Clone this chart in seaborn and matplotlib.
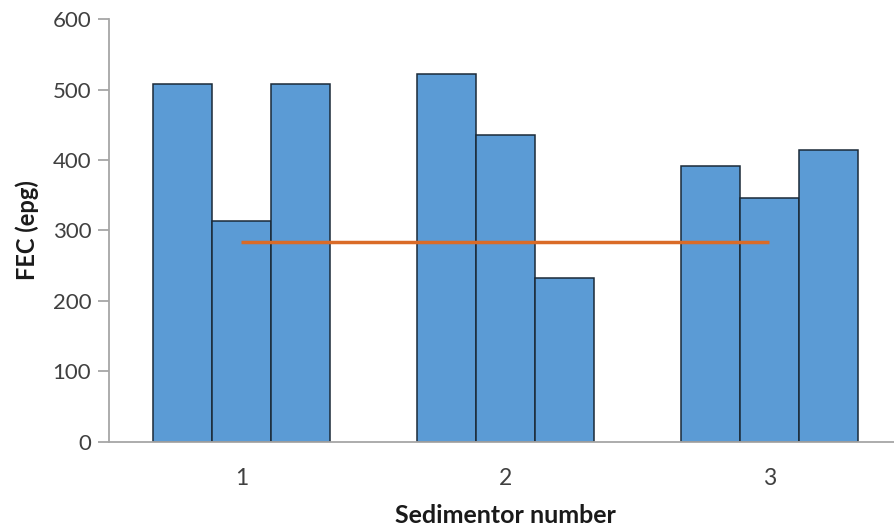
import matplotlib
matplotlib.use("Agg")
import matplotlib.pyplot as plt
import seaborn as sns
import pandas as pd

# Faecal egg counts per sedimentor, three replicate readings each
sedimentors = ["1", "2", "3"]
replicate_a = [508, 522, 392]
replicate_b = [313, 435, 346]
replicate_c = [508, 233, 415]
reference_level = [284, 284, 284]
y_ticks = [0, 100, 200, 300, 400, 500, 600]

rows = []
for rep_name, values in (("a", replicate_a), ("b", replicate_b), ("c", replicate_c)):
    for sed, val in zip(sedimentors, values):
        rows.append({"Sedimentor": sed, "Replicate": rep_name, "FEC": val})
df = pd.DataFrame(rows)

sns.set_theme(style="white")
plt.rcParams["font.family"] = ["Lato", "DejaVu Sans"]

fig = plt.figure(figsize=(8.94, 5.29), dpi=100)
ax = fig.add_axes([0.1223, 0.1654, 0.886, 0.798])

bar_blue = "#5B9BD5"
sns.barplot(
    data=df, x="Sedimentor", y="FEC", hue="Replicate",
    order=sedimentors, hue_order=["a", "b", "c"],
    palette=[bar_blue] * 3, width=0.668, gap=0,
    edgecolor="#1B2A38", linewidth=1.1, saturation=1,
    errorbar=None, legend=False, ax=ax,
)

# Reference level spanning the sedimentors
ax.plot(range(len(sedimentors)), reference_level, color="#DA6B27",
        linewidth=2.5, solid_capstyle="butt", zorder=5)

ax.set_xlim(-0.5, len(sedimentors) - 0.5)
ax.set_ylim(y_ticks[0], y_ticks[-1])
ax.set_yticks(y_ticks)

axis_gray = "#A6A6A6"
for side in ("top", "right"):
    ax.spines[side].set_visible(False)
for side in ("left", "bottom"):
    ax.spines[side].set_color(axis_gray)
    ax.spines[side].set_linewidth(1.3)

# Category labels centred, tick marks between categories
ax.set_xticks(range(len(sedimentors)))
ax.set_xticklabels(sedimentors)
ax.set_xticks([i - 0.5 for i in range(len(sedimentors) + 1)], minor=True)
ax.tick_params(axis="x", which="major", length=0, pad=19,
               labelsize=16.5, labelcolor="#404040")
ax.tick_params(axis="x", which="minor", length=8, width=1.3,
               color=axis_gray, direction="out")
ax.tick_params(axis="y", which="major", length=8, width=1.3,
               color=axis_gray, direction="out", left=True,
               labelsize=16, labelcolor="#404040", pad=5)

ax.set_xlabel("Sedimentor number", fontsize=18, fontweight="bold",
              color="#1A1A1A", labelpad=11)
ax.set_ylabel("FEC (epg)", fontsize=17, fontweight="bold",
              color="#1A1A1A", labelpad=10)

fig.savefig("out.png", dpi=100, facecolor="white")
